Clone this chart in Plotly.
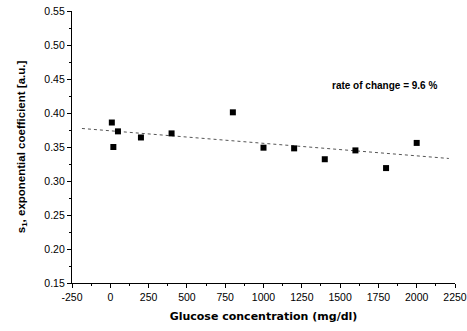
import numpy as np
import plotly.graph_objects as go

glucose = [10, 20, 50, 200, 400, 800, 1000, 1200, 1400, 1600, 1800, 2000]
s1_coef = [0.386, 0.350, 0.373, 0.364, 0.370, 0.401, 0.349, 0.348, 0.332, 0.345, 0.319, 0.356]
fit_x = [-185, 2210]
x_ticks = [-250, 0, 250, 500, 750, 1000, 1250, 1500, 1750, 2000, 2250]
y_ticks = [0.15, 0.20, 0.25, 0.30, 0.35, 0.40, 0.45, 0.50, 0.55]
annotation_text = "rate of change = 9.6 %"

slope, intercept = np.polyfit(glucose, s1_coef, 1)
fit_y = [slope * v + intercept for v in fit_x]

fig = go.Figure()
fig.add_trace(go.Scatter(x=fit_x, y=fit_y, mode="lines",
                         line=dict(color="#555555", width=1, dash="dot"),
                         showlegend=False, hoverinfo="skip"))
fig.add_trace(go.Scatter(x=glucose, y=s1_coef, mode="markers",
                         marker=dict(symbol="square", size=6, color="black"),
                         showlegend=False))

axis_common = dict(showgrid=False, zeroline=False, showline=True, linecolor="black",
                   linewidth=1.2, ticks="outside", tickcolor="black", ticklen=4,
                   automargin=False,
                   tickfont=dict(family="Liberation Sans, Arial", size=10.5, color="black"))

fig.update_xaxes(range=[-250, 2250], tickvals=x_ticks, ticktext=[str(v) for v in x_ticks],
                 minor=dict(dtick=125, tick0=0, ticks="outside", ticklen=2, tickcolor="black"),
                 title=dict(text="<b>Glucose concentration (mg/dl)</b>",
                            font=dict(family="DejaVu Sans", size=11, color="black"),
                            standoff=10),
                 **axis_common)
fig.update_yaxes(range=[0.15, 0.55], tickvals=y_ticks, ticktext=[f"{v:.2f}" for v in y_ticks],
                 minor=dict(dtick=0.025, tick0=0.15, ticks="outside", ticklen=2, tickcolor="black"),
                 title=dict(text="<b>s<sub>1</sub>, exponential coefficient [a.u.]</b>",
                            font=dict(family="Liberation Sans, Arial", size=11.5, color="black"),
                            standoff=16),
                 **axis_common)

fig.add_annotation(x=1793, y=0.441, xref="x", yref="y", text=f"<b>{annotation_text}</b>",
                   showarrow=False,
                   font=dict(family="Liberation Sans, Arial", size=10, color="black"))

fig.update_layout(width=467, height=331, plot_bgcolor="white", paper_bgcolor="white",
                  margin=dict(l=72, r=12, t=11, b=48))

fig.write_html("out.html", config={"displayModeBar": False},
               post_script="document.body.style.margin='0';")
